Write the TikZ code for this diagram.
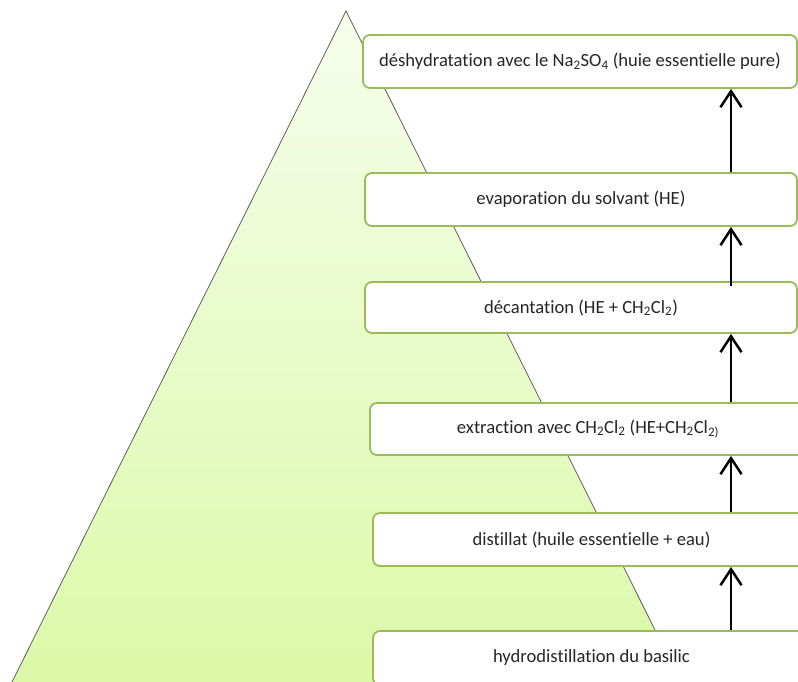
\documentclass[tikz,border=0pt]{standalone}
\usepackage{fontspec}
\setmainfont[Ligatures=NoCommon]{Carlito}
\usetikzlibrary{arrows.meta}
\definecolor{boxgreen}{RGB}{155,187,89}
\definecolor{trigtop}{RGB}{246,253,236}
\definecolor{trigbot}{RGB}{219,249,168}
\definecolor{edgegray}{RGB}{95,95,95}
\tikzset{
  stepbox/.style={draw=boxgreen, line width=1.8pt, fill=white, rounded corners=7pt,
    inner sep=0pt, font=\fontsize{18.6}{22}\selectfont, text=black!85},
  arr/.style={draw=black, line width=2.7pt,
    -{Straight Barb[length=16pt, width=21pt, line width=2.5pt]}}
}
\newcommand{\boxat}[6]{% name, x1, y1, x2, y2, text
  \node[stepbox, minimum width={(#4-#2)*1pt}, minimum height={(#5-#3)*1pt}]
    (#1) at ({(#2+#4)/2},{(#3+#5)/2}) {#6};}
\begin{document}
\begin{tikzpicture}[x=1pt, y=-1pt]
\useasboundingbox (0,0) rectangle (798,682);
\clip (0,0) rectangle (798,682);
% triangle
\shade[top color=trigtop, bottom color=trigbot] (346,11) -- (12,682) -- (681,682) -- cycle;
\draw[edgegray, line width=0.8pt] (12,682) -- (346,11) -- (681,682);
% boxes
\boxat{b1}{363}{35}{797}{88}{déshydratation avec le Na\textsubscript{2}SO\textsubscript{4} (huie essentielle pure)}
\boxat{b2}{365}{173}{797}{226}{evaporation du solvant (HE)}
\boxat{b3}{365}{282}{797}{333}{décantation (HE + CH\textsubscript{2}Cl\textsubscript{2})}
\boxat{b4}{370}{403}{806}{455}{extraction avec CH\textsubscript{2}Cl\textsubscript{2} (HE+CH\textsubscript{2}Cl\textsubscript{2)}}
\boxat{b5}{373}{513}{810}{566}{distillat (huile essentielle + eau)}
\boxat{b6}{373}{631}{810}{685}{hydrodistillation du basilic}
% arrows
\coordinate (ax) at (731,0);
\draw[arr] (b2.north -| ax) -- (b1.south -| ax);
\draw[arr] ([yshift=-5pt]b3.north -| ax) -- (b2.south -| ax);
\draw[arr] (b4.north -| ax) -- (b3.south -| ax);
\draw[arr] (b5.north -| ax) -- (b4.south -| ax);
\draw[arr] (b6.north -| ax) -- (b5.south -| ax);
\end{tikzpicture}
\end{document}
